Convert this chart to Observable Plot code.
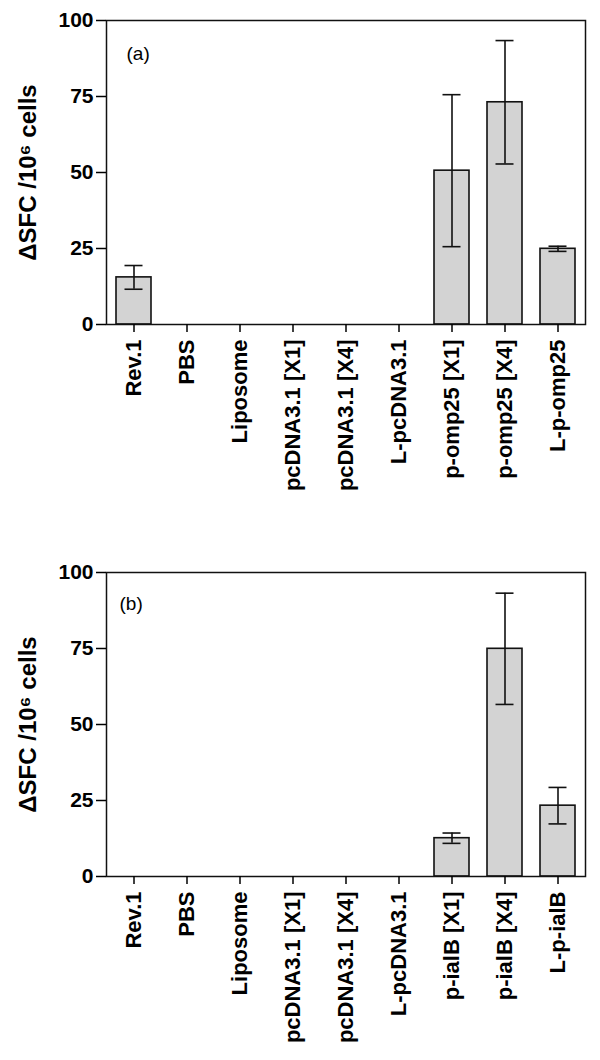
<!DOCTYPE html>
<html>
<head>
<meta charset="utf-8">
<script src="https://cdn.jsdelivr.net/npm/d3@7"></script>
<script src="https://cdn.jsdelivr.net/npm/@observablehq/plot@0.6"></script>
<style>
  body { margin: 0; background: #fff; }
  #chart { width: 600px; }
  #chart svg { display: block; }
  #chart g[aria-label="x-axis tick label"] { font-size: 22px; font-weight: bold; }
  #chart g[aria-label="y-axis tick label"] { font-size: 21px; font-weight: bold; }
</style>
</head>
<body>
<div id="chart"></div>
<script>
const categoriesA = ["Rev.1", "PBS", "Liposome", "pcDNA3.1 [X1]", "pcDNA3.1 [X4]", "L-pcDNA3.1", "p-omp25 [X1]", "p-omp25 [X4]", "L-p-omp25"];
const valuesA = [15.5, 0, 0, 0, 0, 0, 50.6, 73.1, 24.9];
const errorsA = [3.9, 0, 0, 0, 0, 0, 25.0, 20.3, 0.85];

const categoriesB = ["Rev.1", "PBS", "Liposome", "pcDNA3.1 [X1]", "pcDNA3.1 [X4]", "L-pcDNA3.1", "p-ialB [X1]", "p-ialB [X4]", "L-p-ialB"];
const valuesB = [0, 0, 0, 0, 0, 0, 12.6, 74.9, 23.3];
const errorsB = [0, 0, 0, 0, 0, 0, 1.7, 18.3, 6.0];

const yTicks = [0, 25, 50, 75, 100];
const yLabel = "ΔSFC /10⁶ cells";
const FONT = "'Liberation Sans', Arial, Helvetica, sans-serif";

function panel(cats, vals, errs, tag, opts) {
  const data = cats.map((c, i) => ({cat: c, v: vals[i], e: errs[i]}));
  const withErr = data.filter(d => d.e > 0);
  const withBar = data.filter(d => d.v > 0);
  return Plot.plot({
    width: 600,
    height: 530,
    marginLeft: 106,
    marginRight: 15,
    marginTop: opts.top,
    marginBottom: opts.bottom,
    style: {fontFamily: FONT, background: "#fff", color: "#000"},
    x: {domain: cats, paddingInner: 0.34, paddingOuter: 0.17},
    y: {domain: [0, 100]},
    marks: [
      Plot.barY(withBar, {x: "cat", y: "v", fill: "#d3d3d3", stroke: "#111", strokeWidth: 1.6}),
      Plot.ruleX(withErr, {x: "cat", y1: d => d.v - d.e, y2: d => d.v + d.e, stroke: "#111", strokeWidth: 1.6}),
      Plot.tickY(withErr, {x: "cat", y: d => d.v + d.e, stroke: "#111", strokeWidth: 1.6, insetLeft: 8.5, insetRight: 8.5}),
      Plot.tickY(withErr, {x: "cat", y: d => d.v - d.e, stroke: "#111", strokeWidth: 1.6, insetLeft: 8.5, insetRight: 8.5}),
      Plot.frame({stroke: "#111", strokeWidth: 1.5}),
      Plot.axisY({ticks: yTicks, tickSize: 10, tickPadding: 3, tickFormat: d => String(d), fontSize: 21, fontWeight: "bold", label: null, strokeWidth: 1.5}),
      Plot.axisX({tickSize: 8, tickPadding: 7, tickRotate: -90, fontSize: 22, fontWeight: "bold", label: null, strokeWidth: 1.5}),
      Plot.text([yLabel], {frameAnchor: "left", dx: -78, rotate: -90, fontSize: 24, fontWeight: "bold", textAnchor: "middle", lineAnchor: "middle"}),
      Plot.text([tag], {frameAnchor: "top-left", dx: opts.tagDx, dy: opts.tagDy, fontSize: 19, textAnchor: "start", lineAnchor: "middle"})
    ]
  });
}

const el = document.getElementById("chart");
el.append(panel(categoriesA, valuesA, errorsA, "(a)", {top: 20, bottom: 206, tagDx: 20, tagDy: 33}));
el.append(panel(categoriesB, valuesB, errorsB, "(b)", {top: 42, bottom: 184, tagDx: 13, tagDy: 31}));
</script>
</body>
</html>
